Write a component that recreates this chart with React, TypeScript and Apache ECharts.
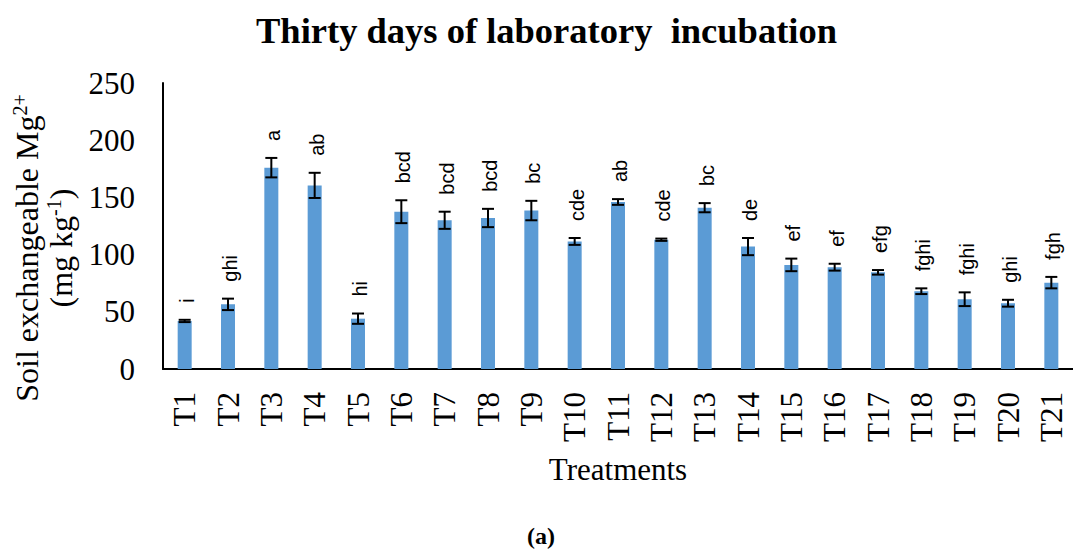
import React, { useEffect, useRef } from "react";
import * as echarts from "echarts";

const categories = ["T1","T2","T3","T4","T5","T6","T7","T8","T9","T10","T11","T12","T13","T14","T15","T16","T17","T18","T19","T20","T21"];
const means = [42, 56.5, 176, 160.5, 44, 137.5, 130, 132, 138.5, 111.5, 146, 113, 141, 107, 91, 89, 84.5, 68, 61, 57.5, 75.5];
const errors = [1, 5, 8.5, 11, 4.5, 10, 7.5, 8, 8.5, 3, 2.5, 1, 4, 7.5, 5.5, 3, 2, 2.5, 6, 3, 5];
const letters = ["i","ghi","a","ab","hi","bcd","bcd","bcd","bc","cde","ab","cde","bc","de","ef","ef","efg","fghi","fghi","ghi","fgh"];
const yTicks = { min: 0, max: 250, interval: 50 };

const SERIF = '"Liberation Serif", "Times New Roman", serif';
const SANS = '"Liberation Sans", Arial, sans-serif';

export default function App() {
  const ref = useRef<HTMLDivElement>(null);
  useEffect(() => {
    if (!ref.current) return;
    const chart = echarts.init(ref.current, undefined, { renderer: "svg" });
    const errData = means.map((m, i) => [i, m, errors[i]]);
    chart.setOption({
      animation: false,
      backgroundColor: "#fff",
      title: {
        text: "Thirty days of laboratory  incubation",
        left: 251,
        top: 7,
        textStyle: { fontFamily: SERIF, fontWeight: "bold", fontSize: 36.5, color: "#000" },
      },
      grid: { left: 163, right: -8, top: 83, bottom: 182 },
      xAxis: {
        type: "category",
        data: categories,
        axisLine: { lineStyle: { color: "#000", width: 2 } },
        axisTick: { show: false },
        axisLabel: { rotate: 90, margin: 23, fontFamily: SERIF, fontSize: 31, color: "#000" },
        name: "Treatments",
        nameLocation: "middle",
        nameGap: 85,
        nameTextStyle: { fontFamily: SERIF, fontSize: 31, color: "#000", verticalAlign: "top" },
      },
      yAxis: {
        type: "value",
        min: yTicks.min,
        max: yTicks.max,
        interval: yTicks.interval,
        axisLine: { show: true, lineStyle: { color: "#000", width: 2 } },
        axisTick: { show: false },
        splitLine: { show: false },
        axisLabel: { margin: 28, fontFamily: SERIF, fontSize: 31, color: "#000" },
        name: "{a|Soil exchangeable Mg}{s|2+}\n{a|(mg kg}{s|-1}{a|)}",
        nameLocation: "middle",
        nameRotate: 90,
        nameGap: 82,
        nameTextStyle: {
          fontFamily: SERIF,
          fontSize: 31,
          color: "#000",
          lineHeight: 34,
          padding: [0, 44, 0, 0],
          rich: {
            a: { fontFamily: SERIF, fontSize: 32, lineHeight: 34, color: "#000" },
            s: { fontFamily: SERIF, fontSize: 20, lineHeight: 20, verticalAlign: "top", color: "#000" },
          },
        },
      },
      series: [
        {
          type: "bar",
          data: means,
          barWidth: 14,
          itemStyle: { color: "#5B9BD5" },
        },
        {
          type: "custom",
          data: errData,
          z: 10,
          renderItem: (params: any, api: any) => {
            const idx = api.value(0);
            const m = api.value(1);
            const e = api.value(2);
            const hi = api.coord([idx, m + e]);
            const lo = api.coord([idx, m - e]);
            const x = hi[0];
            const hw = 6;
            const st = { stroke: "#000", lineWidth: 2 };
            return {
              type: "group",
              children: [
                { type: "line", shape: { x1: x, y1: hi[1], x2: x, y2: lo[1] }, style: st },
                { type: "line", shape: { x1: x - hw, y1: hi[1], x2: x + hw, y2: hi[1] }, style: st },
                { type: "line", shape: { x1: x - hw, y1: lo[1], x2: x + hw, y2: lo[1] }, style: st },
              ],
            };
          },
        },
      ],
    });

    const letterEls = means.map((m, i) => {
      const p = chart.convertToPixel({ xAxisIndex: 0, yAxisIndex: 0 }, [i, m + errors[i]]) as number[];
      return {
        type: "text",
        x: p[0] + 2,
        y: p[1] - 17,
        rotation: Math.PI / 2,
        z: 20,
        style: {
          text: letters[i],
          fontFamily: SANS,
          fontSize: 20,
          fill: "#000",
          align: "left",
          verticalAlign: "middle",
        },
      };
    });

    chart.setOption({
      graphic: [
        {
          type: "text",
          x: 541,
          y: 536,
          style: {
            text: "(a)",
            fontFamily: SERIF,
            fontWeight: "bold",
            fontSize: 24,
            fill: "#000",
            align: "center",
            verticalAlign: "middle",
          },
        },
        ...letterEls,
      ],
    });
    return () => chart.dispose();
  }, []);
  return (
    <div
      ref={ref}
      style={{ position: "absolute", left: 0, top: 0, width: 1073, height: 551, background: "#fff" }}
    />
  );
}
